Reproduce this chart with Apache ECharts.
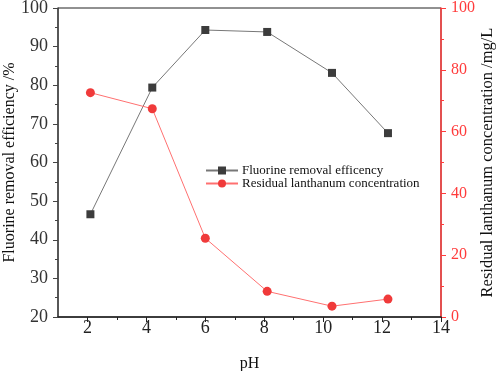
<!DOCTYPE html>
<html>
<head>
<meta charset="utf-8">
<script src="https://cdn.jsdelivr.net/npm/echarts@6/dist/echarts.min.js"></script>
<style>
  html, body { margin: 0; padding: 0; background: #fff; }
  #chart { width: 498px; height: 371px; }
</style>
</head>
<body>
<div id="chart"></div>
<script>
var phFluorine = [2.1, 4.2, 6.0, 8.1, 10.3, 12.2];
var fluorineRemoval = [46.6, 79.4, 94.3, 93.8, 83.2, 67.6];
var phLanthanum = [2.1, 4.2, 6.0, 8.1, 10.3, 12.2];
var lanthanumConc = [72.6, 67.4, 25.5, 8.3, 3.5, 5.8];
var xMajorTicks = [2, 4, 6, 8, 10, 12, 14];
var xMinorTicks = [3, 5, 7, 9, 11, 13];

var font = '"Liberation Serif", "Times New Roman", serif';
var red = '#ff3b3b';
var dark = '#333';

function pairs(xs, ys) {
    return xs.map(function (x, i) { return [x, ys[i]]; });
}

var myChart = echarts.init(document.getElementById('chart'));
var option = {
    animation: false,
    textStyle: { fontFamily: font },
    grid: {
        left: 58, right: 57, top: 8, bottom: 54,
        outerBoundsMode: 'none',
        show: true, borderColor: '#222', borderWidth: 1
    },
    legend: {
        left: 205, top: 164, padding: 0,
        orient: 'vertical',
        itemWidth: 32, itemHeight: 10, itemGap: 0,
        textStyle: { fontFamily: font, fontSize: 13, color: '#111', padding: [0, 0, 0, -1] },
        data: ['Fluorine removal efficency', 'Residual lanthanum concentration']
    },
    xAxis: [{
        type: 'value', min: 1, max: 14,
        name: 'pH', nameLocation: 'middle', nameGap: 39, nameMoveOverlap: false,
        nameTextStyle: { fontFamily: font, fontSize: 16, color: '#111' },
        axisLine: { lineStyle: { color: '#222', width: 1.5 } },
        axisTick: { customValues: xMajorTicks, length: 5, lineStyle: { color: '#222' } },
        axisLabel: { customValues: xMajorTicks, fontFamily: font, fontSize: 18, color: '#222', margin: 2 },
        splitLine: { show: false }
    }, {
        type: 'value', min: 1, max: 14, position: 'bottom',
        axisLine: { show: false },
        axisTick: { customValues: xMinorTicks, length: 3, lineStyle: { color: '#222' } },
        axisLabel: { show: false },
        splitLine: { show: false }
    }],
    yAxis: [{
        type: 'value', min: 20, max: 100, interval: 10,
        name: 'Fluorine removal efficiency /%', nameLocation: 'middle', nameGap: 40,
        nameMoveOverlap: false,
        nameTextStyle: { fontFamily: font, fontSize: 16, color: '#111' },
        axisLine: { show: true, lineStyle: { color: '#444', width: 1.5 } },
        axisTick: { length: 5, lineStyle: { color: '#444' } },
        minorTick: { show: true, splitNumber: 2, length: 3, lineStyle: { color: '#444' } },
        axisLabel: { fontFamily: font, fontSize: 18, color: dark, margin: 10 },
        splitLine: { show: false }
    }, {
        type: 'value', min: 0, max: 100, interval: 20, position: 'right',
        name: 'Residual lanthanum concentration /mg/L', nameLocation: 'middle', nameGap: 38,
        nameRotate: 90, nameMoveOverlap: false,
        nameTextStyle: { fontFamily: font, fontSize: 16.5, color: '#111' },
        axisLine: { show: true, lineStyle: { color: red, width: 1.5 } },
        axisTick: { length: 5, lineStyle: { color: red } },
        minorTick: { show: true, splitNumber: 2, length: 3, lineStyle: { color: red } },
        axisLabel: { fontFamily: font, fontSize: 16, color: red, margin: 10 },
        splitLine: { show: false }
    }],
    series: [{
        name: 'Fluorine removal efficency',
        type: 'line', xAxisIndex: 0, yAxisIndex: 0,
        data: pairs(phFluorine, fluorineRemoval),
        symbol: 'rect', symbolSize: 8,
        itemStyle: { color: '#3c3c3c' },
        lineStyle: { color: '#777', width: 1 }
    }, {
        name: 'Residual lanthanum concentration',
        type: 'line', xAxisIndex: 0, yAxisIndex: 1,
        data: pairs(phLanthanum, lanthanumConc),
        symbol: 'circle', symbolSize: 9,
        itemStyle: { color: '#f03a3a' },
        lineStyle: { color: '#ff7070', width: 1 }
    }]
};
myChart.setOption(option);
</script>
</body>
</html>
